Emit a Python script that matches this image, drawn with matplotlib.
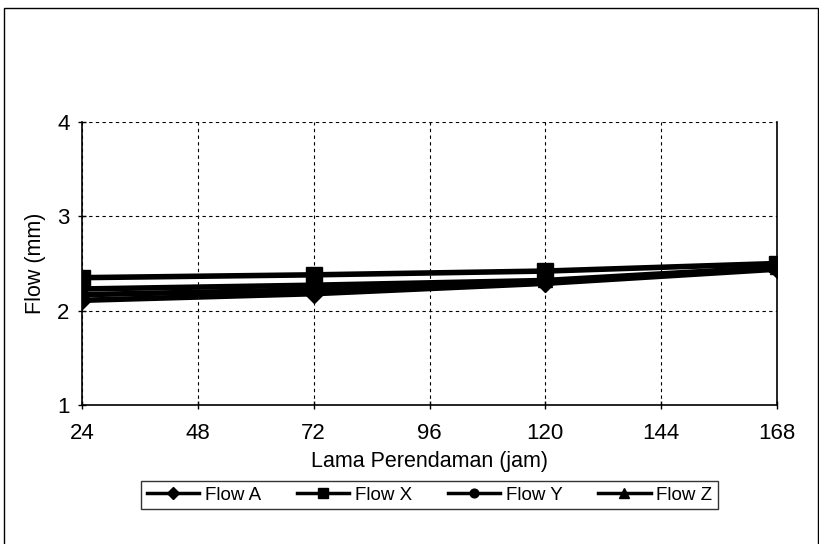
# Flow vs soaking time chart (recreated from a scanned Excel figure)
import numpy as np
import matplotlib
matplotlib.use('Agg')
import matplotlib.pyplot as plt
from matplotlib.patches import Rectangle

plt.rcParams['font.family'] = ['Liberation Sans', 'DejaVu Sans']

# --------------------------------------------------------------------------- #
# Data.
jam = [24, 72, 120, 168]
flow_a = [2.11, 2.18, 2.29, 2.44]
flow_x = [2.35, 2.38, 2.42, 2.50]
flow_y = [2.17, 2.22, 2.31, 2.45]
flow_z = [2.23, 2.27, 2.32, 2.46]

xticks = [24, 48, 72, 96, 120, 144, 168]
yticks = [1, 2, 3, 4]

# --------------------------------------------------------------------------- #
fig = plt.figure(figsize=(8.2, 5.44), dpi=100)
ax = fig.add_axes([0.1, 0.2555, 0.8476, 0.5202])

# Outer frame round the whole chart (bottom edge runs off the scan)
fig.patches.append(Rectangle((0.005, -0.02), 0.992, 1.005, transform=fig.transFigure,
                             fill=False, edgecolor='black', linewidth=1.0))

ax.plot(jam, flow_a, color='black', lw=4, marker='D', ms=9, label='Flow A')
ax.plot(jam, flow_x, color='black', lw=4, marker='s', ms=11, label='Flow X')
ax.plot(jam, flow_y, color='black', lw=4, marker='o', ms=9, label='Flow Y')
ax.plot(jam, flow_z, color='black', lw=4, marker='^', ms=10, label='Flow Z')

ax.set_xlim(24, 168)
ax.set_ylim(1, 4)
ax.set_xticks(xticks)
ax.set_yticks(yticks)
ax.grid(True, color='black', linestyle=(0, (3, 3)), linewidth=0.8)
ax.tick_params(direction='inout', length=6, width=1, labelsize=16, colors='black')
ax.tick_params(axis='x', pad=10)
ax.tick_params(axis='y', pad=6)

for side in ['left', 'bottom', 'right']:
  ax.spines[side].set_linewidth(1.2)
ax.spines['top'].set_visible(False)

ax.set_xlabel('Lama Perendaman (jam)', fontsize=15.5, labelpad=5)
ax.set_ylabel('Flow (mm)', fontsize=15.5, labelpad=8)

leg = ax.legend(loc='upper center', bbox_to_anchor=(0.5, -0.235), ncol=4,
                frameon=True, fancybox=False, edgecolor='black', fontsize=13.5,
                handlelength=2.8, columnspacing=1.9, borderpad=0.3,
                handletextpad=0.3, markerscale=0.7)
leg.get_frame().set_linewidth(1.0)
for h in leg.get_lines():
  h.set_linewidth(2.5)

fig.savefig('out.png', dpi=100)
